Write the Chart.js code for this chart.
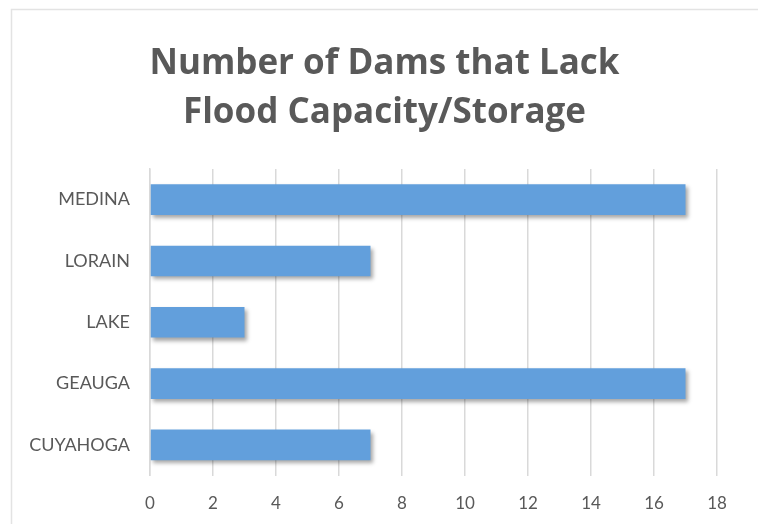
<!DOCTYPE html>
<html>
<head>
<meta charset="utf-8">
<script src="https://cdn.jsdelivr.net/npm/chart.js@4/dist/chart.umd.min.js"></script>
<style>
  html, body { margin: 0; padding: 0; background: #ffffff; }
  #wrap { position: relative; width: 758px; height: 524px; }
</style>
</head>
<body>
<div id="wrap"><canvas id="chart" width="758" height="524"></canvas></div>
<script>
// Counties and the number of dams in each lacking flood capacity/storage
const counties = ['MEDINA', 'LORAIN', 'LAKE', 'GEAUGA', 'CUYAHOGA'];
const damCounts = [17, 7, 3, 17, 7];
const titleLines = ['Number of Dams that Lack', 'Flood Capacity/Storage'];

const textGrey = '#595959';
const gridGrey = '#d9d9d9';

// Soft drop shadow beneath the bars
const barShadow = {
  id: 'barShadow',
  beforeDatasetsDraw(chart) {
    const ctx = chart.ctx;
    ctx.save();
    ctx.shadowColor = 'rgba(0,0,0,0.35)';
    ctx.shadowBlur = 4;
    ctx.shadowOffsetX = 2;
    ctx.shadowOffsetY = 3;
  },
  afterDatasetsDraw(chart) {
    chart.ctx.restore();
  }
};

// Thin frame around the chart
const frame = {
  id: 'frame',
  beforeDraw(chart) {
    const ctx = chart.ctx;
    ctx.save();
    ctx.fillStyle = '#ffffff';
    ctx.fillRect(0, 0, chart.width, chart.height);
    ctx.strokeStyle = '#e3e3e3';
    ctx.lineWidth = 1.5;
    ctx.strokeRect(11.5, 9.5, chart.width, chart.height + 10);
    ctx.restore();
  }
};

new Chart(document.getElementById('chart'), {
  type: 'bar',
  data: {
    labels: counties,
    datasets: [{
      data: damCounts,
      backgroundColor: '#629fdc',
      borderWidth: 0,
      barPercentage: 0.5,
      categoryPercentage: 1.0
    }]
  },
  options: {
    indexAxis: 'y',
    responsive: false,
    animation: false,
    layout: { padding: { top: 0, left: 11, right: 0, bottom: 0 } },
    plugins: {
      legend: { display: false },
      tooltip: { enabled: false },
      title: {
        display: true,
        text: titleLines,
        color: textGrey,
        font: { family: 'Open Sans', size: 35, weight: 'bold', lineHeight: 1.4 },
        padding: { top: 40, bottom: 31 }
      }
    },
    scales: {
      x: {
        min: 0,
        max: 18,
        ticks: { stepSize: 2, color: textGrey, font: { family: 'Lato', size: 17 }, padding: 18 },
        grid: { color: gridGrey, lineWidth: 1.5, drawTicks: false },
        border: { display: false },
        afterFit(scale) { scale.height = 48.5; }
      },
      y: {
        ticks: { color: textGrey, font: { family: 'Lato', size: 18 }, padding: 20 },
        grid: { display: false, drawTicks: false },
        border: { display: true, color: gridGrey, width: 1.5 },
        afterFit(scale) { scale.width = 139; }
      },
      // empty right-hand margin so the plot ends at 18
      yMargin: {
        type: 'category',
        position: 'right',
        ticks: { display: false },
        grid: { display: false, drawTicks: false },
        border: { display: false },
        afterFit(scale) { scale.width = 41; }
      }
    }
  },
  plugins: [frame, barShadow]
});
</script>
</body>
</html>
